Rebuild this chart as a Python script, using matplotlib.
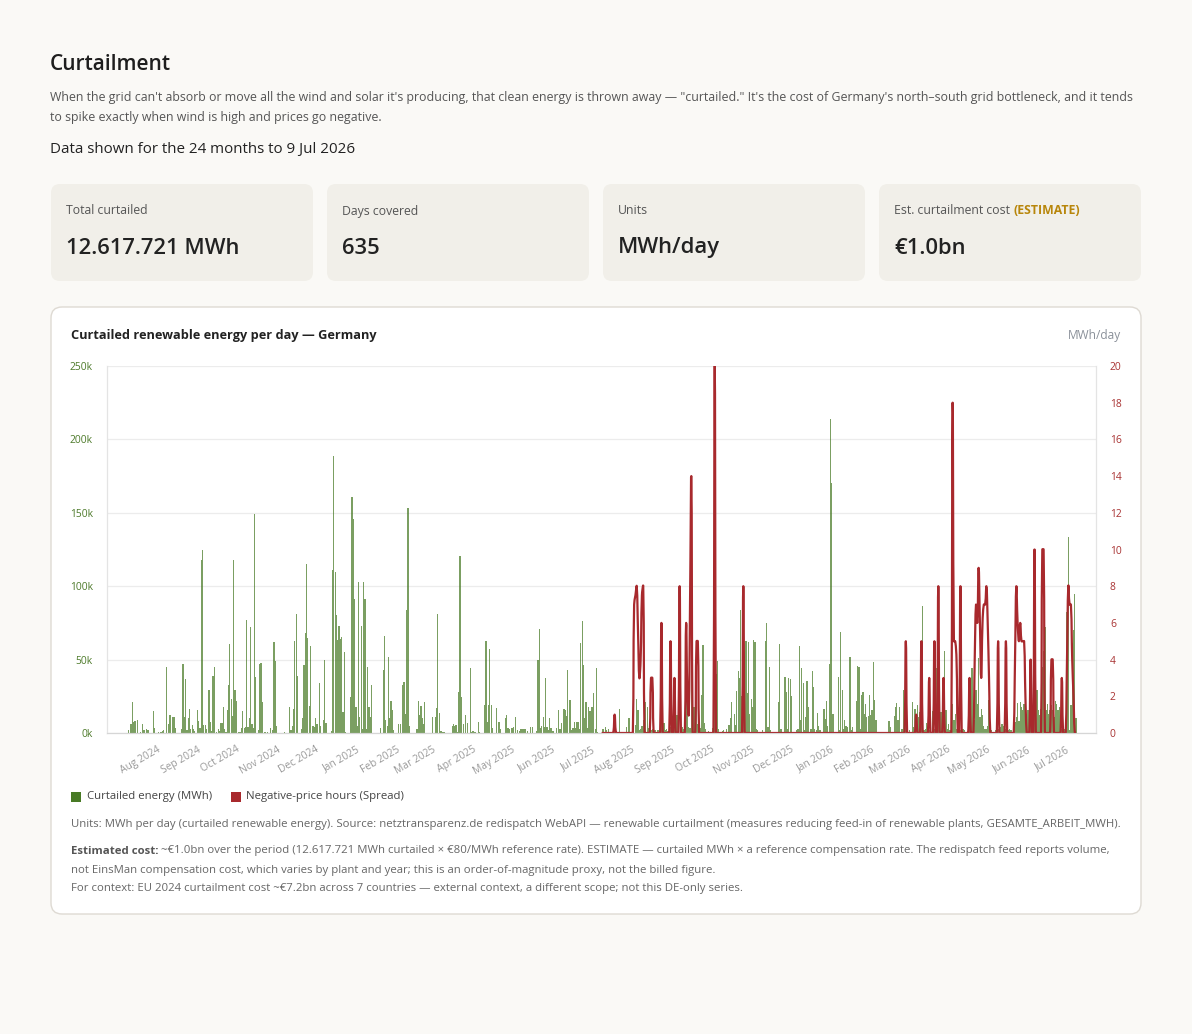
import matplotlib
matplotlib.use('Agg')
import matplotlib.pyplot as plt
import matplotlib.dates as mdates
from matplotlib.patches import FancyBboxPatch, Rectangle, PathPatch
from matplotlib.path import Path
import numpy as np
import pandas as pd

plt.rcParams['font.family'] = ['Open Sans', 'DejaVu Sans']

# curtailed renewable energy per day, in thousand MWh, 10 Jul 2024 .. 9 Jul 2026
curtailed_k = [
    # Jul 2024 (from the 10th)
    2, 0, 6, 21, 7.5, 8, 0, 9, 0, 1, 0, 6, 2, 0, 3, 2, 0, 0, 0, 15, 3.4, 0,
    # Aug 2024
    0, 0.5, 0, 1, 1.5, 2, 0, 45, 0, 6, 12.5, 0, 11, 11, 3.4, 0, 0, 0, 0, 2.5,
    47, 11, 36.6, 2, 10, 16.6, 3, 5.7, 3, 1.5, 0,
    # Sep 2024
    15.5, 7.9, 3.4, 118, 124.5, 5.5, 5.5, 2.5, 0, 29, 7.5, 1.5, 39, 45, 0,
    1, 3, 1.5, 7, 7, 18, 2.5, 1, 15.7, 33, 60.5, 23, 11.6, 118, 29.5,
    # Oct 2024
    22, 0, 0.5, 0.5, 3.4, 15, 3.4, 4, 77, 4, 10, 72, 6.4, 3.5, 149, 38, 0, 2,
    47, 47.5, 21, 0, 0.5, 0, 0.5, 0, 3.6, 0, 2, 62, 49,
    # Nov 2024
    5, 0, 0, 0, 0, 0, 0.5, 0, 0, 0, 18, 2, 4.5, 16.4, 63, 81, 39, 0, 0, 3,
    10, 46, 68, 115, 65, 18.6, 59, 0, 4.5, 3.8,
    # Dec 2024
    10, 6.4, 0, 34, 5, 0, 8.6, 50, 7, 0, 0, 0, 1.5, 111, 188.6, 110, 80.7,
    63.6, 72.7, 64, 65.5, 14, 55, 1, 0, 0, 0, 24.5, 161, 145.7, 91,
    # Jan 2025
    18, 5, 102.7, 11, 73, 3, 102.7, 91, 2.5, 45, 18, 11, 32.5, 0, 0, 0, 0,
    0.3, 0, 3.5, 0, 43, 66, 9, 5, 52, 10, 22, 16, 2, 0,
    # Feb 2025
    0, 0, 6.4, 6.4, 0, 32.5, 35, 13, 84, 153, 4.5, 0, 0, 0, 0, 0, 2.5, 22,
    12, 18.4, 10, 6.4, 21, 0, 0, 0, 0, 0,
    # Mar 2025
    10.7, 0, 11, 17, 81, 13.6, 1.5, 1.5, 1, 1, 0, 0, 0, 0, 0, 4.5, 6.4, 4.5,
    5.5, 1, 28, 120.7, 24.5, 0, 6.4, 12, 0, 7, 0, 44, 1,
    # Apr 2025
    1.5, 1, 1, 0, 7.3, 1, 0, 0, 0, 19, 63, 7.3, 19, 57, 19, 3.4, 0, 0, 17, 0,
    7.5, 2.5, 0, 0, 0, 10, 12.5, 3.4, 2.5, 0,
    # May 2025
    3.4, 4, 0, 11, 2, 0, 1.5, 2.5, 3, 3, 3, 0, 1.5, 0, 4, 0, 4, 0, 0, 1.5,
    50, 71, 3.4, 4.5, 11, 4, 37.7, 4, 2, 10, 3.4,
    # Jun 2025
    1.5, 1.5, 0, 3.4, 0, 16, 2.5, 7, 0, 16.6, 15.5, 11.8, 43, 22.7, 22.7, 2,
    3.4, 7.5, 3.4, 7.5, 7.5, 2.5, 61, 76.6, 46.6, 10, 21, 3.4, 18, 14.8,
    # Jul 2025
    17.5, 18, 27, 3, 44, 1, 0, 0, 0, 3, 0, 4, 2, 3, 0, 0, 0.5, 0, 1, 0, 0, 0,
    16.4, 0, 0.5, 0, 0, 4, 0, 10.5, 0,
    # Aug 2025
    0, 2, 0, 5.7, 23, 16, 2, 3, 5, 9, 2, 21, 18, 3.4, 0, 2, 3, 15.5, 2, 0, 2,
    2, 1, 28.4, 0, 7, 2, 3, 1.5, 0, 4,
    # Sep 2025
    21, 10, 5, 3.4, 12.5, 2, 0, 0, 4, 2.5, 3.4, 24.5, 17.7, 4, 3.4, 48.4,
    56.8, 18, 14, 51.8, 6, 6, 3.4, 26, 60, 7, 3, 0, 1.5, 0,
    # Oct 2025
    0, 3.4, 33.6, 42, 40, 49, 3, 0, 1, 1.5, 2, 1, 3, 0, 5.7, 10, 21, 0, 12.7,
    5.7, 28.6, 42, 37.5, 83.6, 25, 93, 34, 62.5, 27, 62, 13,
    # Nov 2025
    23.4, 18, 63.6, 62, 3, 2, 0, 0, 0, 2, 0, 62.5, 75, 4, 45, 2, 0, 1, 0, 0,
    0, 21, 60.5, 3, 0, 0, 38, 28, 3, 37.7,
    # Dec 2025
    37, 25, 0, 0, 0, 2, 3, 59.5, 9, 44.5, 34, 2, 11, 35.5, 18, 0, 3, 42, 31,
    3, 2, 13.6, 5, 2, 0, 0, 16.6, 9.5, 21.6, 5, 47,
    # Jan 2026
    213.6, 170, 13, 0, 1, 0, 38, 2, 69, 29, 3, 8.6, 5, 4, 0, 51.8, 2, 4, 0, 1,
    22, 45.7, 45, 3, 26, 28, 13, 20, 11, 11.4, 26,
    # Feb 2026
    12, 15.5, 48.4, 22.7, 9, 0, 0, 0, 0, 0, 0, 1, 0, 0, 8, 4, 0, 0, 11.4,
    17.7, 20.7, 8.6, 17.7, 0, 3, 29, 3, 13.9,
    # Mar 2026
    2, 0, 2, 0, 21, 4, 16.6, 3, 19, 11, 14, 62.5, 86.8, 2, 3, 7, 3, 2, 8.6, 0,
    14.8, 3, 24.5, 44, 81.8, 27, 14, 3, 27, 56, 15.5,
    # Apr 2026
    3, 6.4, 2, 20.5, 19.5, 8.6, 12.7, 3, 16, 16.6, 2, 16.6, 3, 2, 1, 0, 0,
    15.5, 11, 44, 16.6, 8.6, 29, 20, 51, 11, 16.6, 12, 4.5, 3,
    # May 2026
    3, 4.5, 22.7, 3, 2, 0, 0, 2, 0, 3, 7, 4, 6.4, 4.5, 0, 3, 4, 2, 3, 2, 0, 2,
    7.5, 11, 20.5, 8, 21, 17.7, 15.5, 20, 6.4,
    # Jun 2026
    13, 16, 6.4, 20, 16.6, 13, 20, 27, 29, 15.5, 12, 16.6, 45, 55.7, 72, 16,
    20, 13, 16, 19, 16, 11, 22, 20, 16, 17.7, 5, 3, 2, 3,
    # Jul 2026 (to the 9th)
    2, 82.5, 133.6, 2, 19, 61, 70.5, 95, 10,
]
curtailed_start = '2024-07-10'

# negative-price hours per day (spread), 9 Jul 2025 .. 9 Jul 2026
neg_hours = [
    # Jul 2025 (from the 9th)
    0, 0, 0, 0, 0, 0, 0, 0, 0, 0, 1, 0, 0, 0, 0, 0, 0, 0, 0, 0, 0, 0, 0,
    # Aug 2025
    0, 0, 7, 7.5, 8, 5.5, 3, 4, 7.5, 8, 0, 0, 0, 0, 0, 3, 3, 0, 0, 0, 0, 0, 0,
    6, 0, 0, 0, 0, 0, 0, 5,
    # Sep 2025
    0, 0, 3, 0, 0, 0, 8, 0, 0, 0, 0, 6, 2, 1, 7, 14, 0, 0, 0, 5, 5, 0, 0, 0,
    0, 0, 0, 0, 0, 0,
    # Oct 2025
    0, 0, 0, 20, 0, 0, 0, 0, 0, 0, 0, 0, 0, 0, 0, 0, 0, 0, 0, 0, 0, 0, 0, 0,
    0, 8, 0, 0, 0, 0, 0,
    # Nov 2025
    0, 0, 0, 0, 0, 0, 0, 0, 0, 0, 0, 0, 0, 0, 0, 0, 0, 0, 0, 0, 0, 0, 0, 0,
    0, 0, 0, 0, 0, 0,
    # Dec 2025
    0, 0, 0, 0, 0, 0, 0, 0, 0, 0, 0, 0, 0, 0, 0, 0, 0, 0, 0, 0, 0, 0, 0, 0,
    0, 0, 0, 0, 0, 0, 0,
    # Jan 2026
    0, 0, 0, 0, 0, 0, 0, 0, 0, 0, 0, 0, 0, 0, 0, 0, 0, 0, 0, 0, 0, 0, 0, 0,
    0, 0, 0, 0, 0, 0, 0,
    # Feb 2026
    0, 0, 0, 0, 0, 0, 0, 0, 0, 0, 0, 0, 0, 0, 0, 0, 0, 0, 0, 0, 0, 0, 0, 0,
    0, 0, 0, 5,
    # Mar 2026
    0, 0, 0, 0, 0, 0, 0, 1, 0, 0, 0, 5, 0, 0, 0, 0, 0, 3, 0, 0, 0, 5, 0, 0,
    8, 0, 0, 0, 3, 0, 0,
    # Apr 2026
    0, 0, 0, 0, 18, 5, 5, 4, 0, 0, 8, 0, 0, 0, 0, 0, 0, 3, 0, 0, 0, 4, 7, 6,
    9, 6, 3, 6, 7, 7,
    # May 2026
    8, 6, 3, 0, 0, 0, 0, 0, 0, 5, 0, 0, 0, 0, 0, 5, 0, 0, 0, 0, 0, 0, 4, 8,
    6, 5, 6, 5, 5, 5, 2,
    # Jun 2026
    0, 0, 0, 4, 0, 0, 10, 0, 0, 0, 0, 0, 10, 10, 0, 0, 0, 0, 0, 4, 4, 0, 0,
    0, 0, 0, 0, 3, 0, 0,
    # Jul 2026 (to the 9th)
    0, 4, 8, 7, 7, 4, 2, 0, 0,
]
neg_start = '2025-07-09'

left_ticks = [0, 50, 100, 150, 200, 250]
left_labels = ['0k', '50k', '100k', '150k', '200k', '250k']
right_ticks = [0, 2, 4, 6, 8, 10, 12, 14, 16, 18, 20]
month_ticks = pd.date_range('2024-08-01', '2026-07-01', freq='MS')

kpi_labels = ['Total curtailed', 'Days covered', 'Units', 'Est. curtailment cost ']
kpi_values = ['12.617.721 MWh', '635', 'MWh/day', '€1.0bn']

GREEN = '#487a25'
RED = '#a8292d'
W, H = 1192, 1034

fig = plt.figure(figsize=(W / 100, H / 100), dpi=100, facecolor='#faf9f6')
bg = fig.add_axes([0, 0, 1, 1])
bg.set_xlim(0, W)
bg.set_ylim(H, 0)
bg.axis('off')
renderer = fig.canvas.get_renderer()


def runs(x, y, parts, size, color):
    # draw text pieces one after another on one baseline
    for s, weight, col in parts:
        t = bg.text(x, y, s, fontsize=size, fontweight=weight,
                    color=col or color, va='center')
        x += t.get_window_extent(renderer).width


def smooth_path(xs, ys, sx, sy, tension=0.4, ymin=0, ymax=20):
    # bezier line like a chart.js tension curve, control points worked out in pixel space
    px, py = xs * sx, ys * sy
    verts = [(xs[0], ys[0])]
    codes = [Path.MOVETO]
    n = len(xs)
    cp_prev, cp_next = [], []
    for i in range(n):
        a, c = max(i - 1, 0), min(i + 1, n - 1)
        d01 = np.hypot(px[i] - px[a], py[i] - py[a])
        d12 = np.hypot(px[c] - px[i], py[c] - py[i])
        tot = d01 + d12 if d01 + d12 else 1
        fa, fb = tension * d01 / tot, tension * d12 / tot
        dx, dy = px[c] - px[a], py[c] - py[a]
        cp_prev.append((px[i] - fa * dx, py[i] - fa * dy))
        cp_next.append((px[i] + fb * dx, py[i] + fb * dy))
    for i in range(n - 1):
        for (cx, cy) in (cp_next[i], cp_prev[i + 1]):
            verts.append((cx / sx, min(max(cy / sy, ymin), ymax)))
            codes.append(Path.CURVE4)
        verts.append((xs[i + 1], ys[i + 1]))
        codes.append(Path.CURVE4)
    return Path(verts, codes)


bg.text(50, 65, 'Curtailment', fontsize=15, fontweight='semibold', color='#1e1e1e', va='center')
bg.text(50, 97, "When the grid can't absorb or move all the wind and solar it's producing, that clean energy is "
        "thrown away \u2014 \"curtailed.\" It's the cost of Germany's north\u2013south grid bottleneck, and it tends",
        fontsize=8.9, color='#555555', va='center')
bg.text(50, 117, 'to spike exactly when wind is high and prices go negative.',
        fontsize=8.9, color='#555555', va='center')
bg.text(50, 149, 'Data shown for the 24 months to 9 Jul 2026', fontsize=10.9, color='#222222', va='center')

for i, (lab, val) in enumerate(zip(kpi_labels, kpi_values)):
    x0 = 51 + i * 276
    bg.add_patch(FancyBboxPatch((x0, 184), 262, 97, boxstyle='round,pad=0,rounding_size=9',
                                facecolor='#f1efe9', edgecolor='none'))
    if i == 3:
        runs(x0 + 15, 211, [(lab, 'normal', None), ('(ESTIMATE)', 'bold', '#b8860b')], 8.8, '#555555')
    else:
        bg.text(x0 + 15, 211, lab, fontsize=8.8, color='#555555', va='center')
    bg.text(x0 + 15, 248, val, fontsize=15.8, fontweight='semibold', color='#222222', va='center')

bg.add_patch(FancyBboxPatch((51, 307), 1090, 607, boxstyle='round,pad=0,rounding_size=11',
                            facecolor='white', edgecolor='#dedad3', linewidth=1))
bg.text(71, 335, 'Curtailed renewable energy per day \u2014 Germany', fontsize=9.2,
        fontweight='bold', color='#222222', va='center')
bg.text(1121, 335, 'MWh/day', fontsize=8.6, color='#8a9099', va='center', ha='right')

# legend
bg.add_patch(Rectangle((71, 792), 10, 10, facecolor=GREEN, edgecolor='none'))
bg.text(87, 797, 'Curtailed energy (MWh)', fontsize=8.2, color='#444444', va='center')
bg.add_patch(Rectangle((231, 792), 10, 10, facecolor=RED, edgecolor='none'))
bg.text(246, 797, 'Negative-price hours (Spread)', fontsize=8.2, color='#444444', va='center')

# notes
bg.text(71, 824, 'Units: MWh per day (curtailed renewable energy). Source: netztransparenz.de redispatch WebAPI '
        '\u2014 renewable curtailment (measures reducing feed-in of renewable plants, GESAMTE_ARBEIT_MWH).',
        fontsize=8.2, color='#666666', va='center')
runs(71, 851, [('Estimated cost:', 'bold', '#555555'),
               (' ~\u20ac1.0bn over the period (12.617.721 MWh curtailed \u00d7 \u20ac80/MWh reference rate). '
                'ESTIMATE \u2014 curtailed MWh \u00d7 a reference compensation rate. The redispatch feed reports volume,',
                'normal', None)], 8.2, '#666666')
bg.text(71, 870, 'not EinsMan compensation cost, which varies by plant and year; this is an order-of-magnitude '
        'proxy, not the billed figure.', fontsize=8.2, color='#666666', va='center')
bg.text(71, 889, 'For context: EU 2024 curtailment cost ~\u20ac7.2bn across 7 countries \u2014 external context, '
        'a different scope; not this DE-only series.', fontsize=8.2, color='#666666', va='center')

# chart
cur_dates = pd.date_range(curtailed_start, periods=len(curtailed_k), freq='D')
neg_dates = pd.date_range(neg_start, periods=len(neg_hours), freq='D')

ax = fig.add_axes([107 / W, 1 - 733 / H, 989 / W, 367 / H])
ax.set_facecolor('none')
ax.bar(cur_dates, curtailed_k, width=0.95, color=GREEN, alpha=0.72, linewidth=0)
ax.set_ylim(0, 250)
ax.set_yticks(left_ticks)
ax.set_yticklabels(left_labels)
ax.yaxis.grid(True, color='#ececec', linewidth=0.9)
ax.set_axisbelow(True)
ax.tick_params(axis='y', length=0, pad=10, labelsize=7.4, labelcolor='#4d7a2a')

aug1 = pd.Timestamp('2024-08-01')
ax.set_xlim(aug1 - pd.Timedelta(days=38.5), aug1 + pd.Timedelta(days=722.3))
ax.set_xticks(month_ticks)
ax.xaxis.set_major_formatter(mdates.DateFormatter('%b %Y'))
ax.tick_params(axis='x', length=0, pad=8, labelsize=7.4, labelcolor='#999999')
for lab in ax.get_xticklabels():
    lab.set_rotation(30)
    lab.set_ha('right')
    lab.set_rotation_mode('anchor')

ax2 = ax.twinx()
ax2.set_ylim(0, 20)
xnum = mdates.date2num(neg_dates)
xlo, xhi = ax.get_xlim()
px_per_day = 989 / (xhi - xlo)
px_per_unit = 367 / 20
curve = smooth_path(np.asarray(xnum, float), np.asarray(neg_hours, float), px_per_day, px_per_unit)
ax2.add_patch(PathPatch(curve, facecolor='none', edgecolor=RED, linewidth=1.6, joinstyle='round'))
ax2.set_xlim(xlo, xhi)
ax2.set_yticks(right_ticks)
ax2.tick_params(axis='y', length=0, pad=10, labelsize=7.4, labelcolor='#a83232')

for a in (ax, ax2):
    a.spines['top'].set_visible(False)
    a.spines['left'].set_color('#e4e4e4')
    a.spines['right'].set_color('#e4e4e4')
    a.spines['bottom'].set_color('#d6d6d6')

fig.savefig('out.png', dpi=100, facecolor=fig.get_facecolor())
